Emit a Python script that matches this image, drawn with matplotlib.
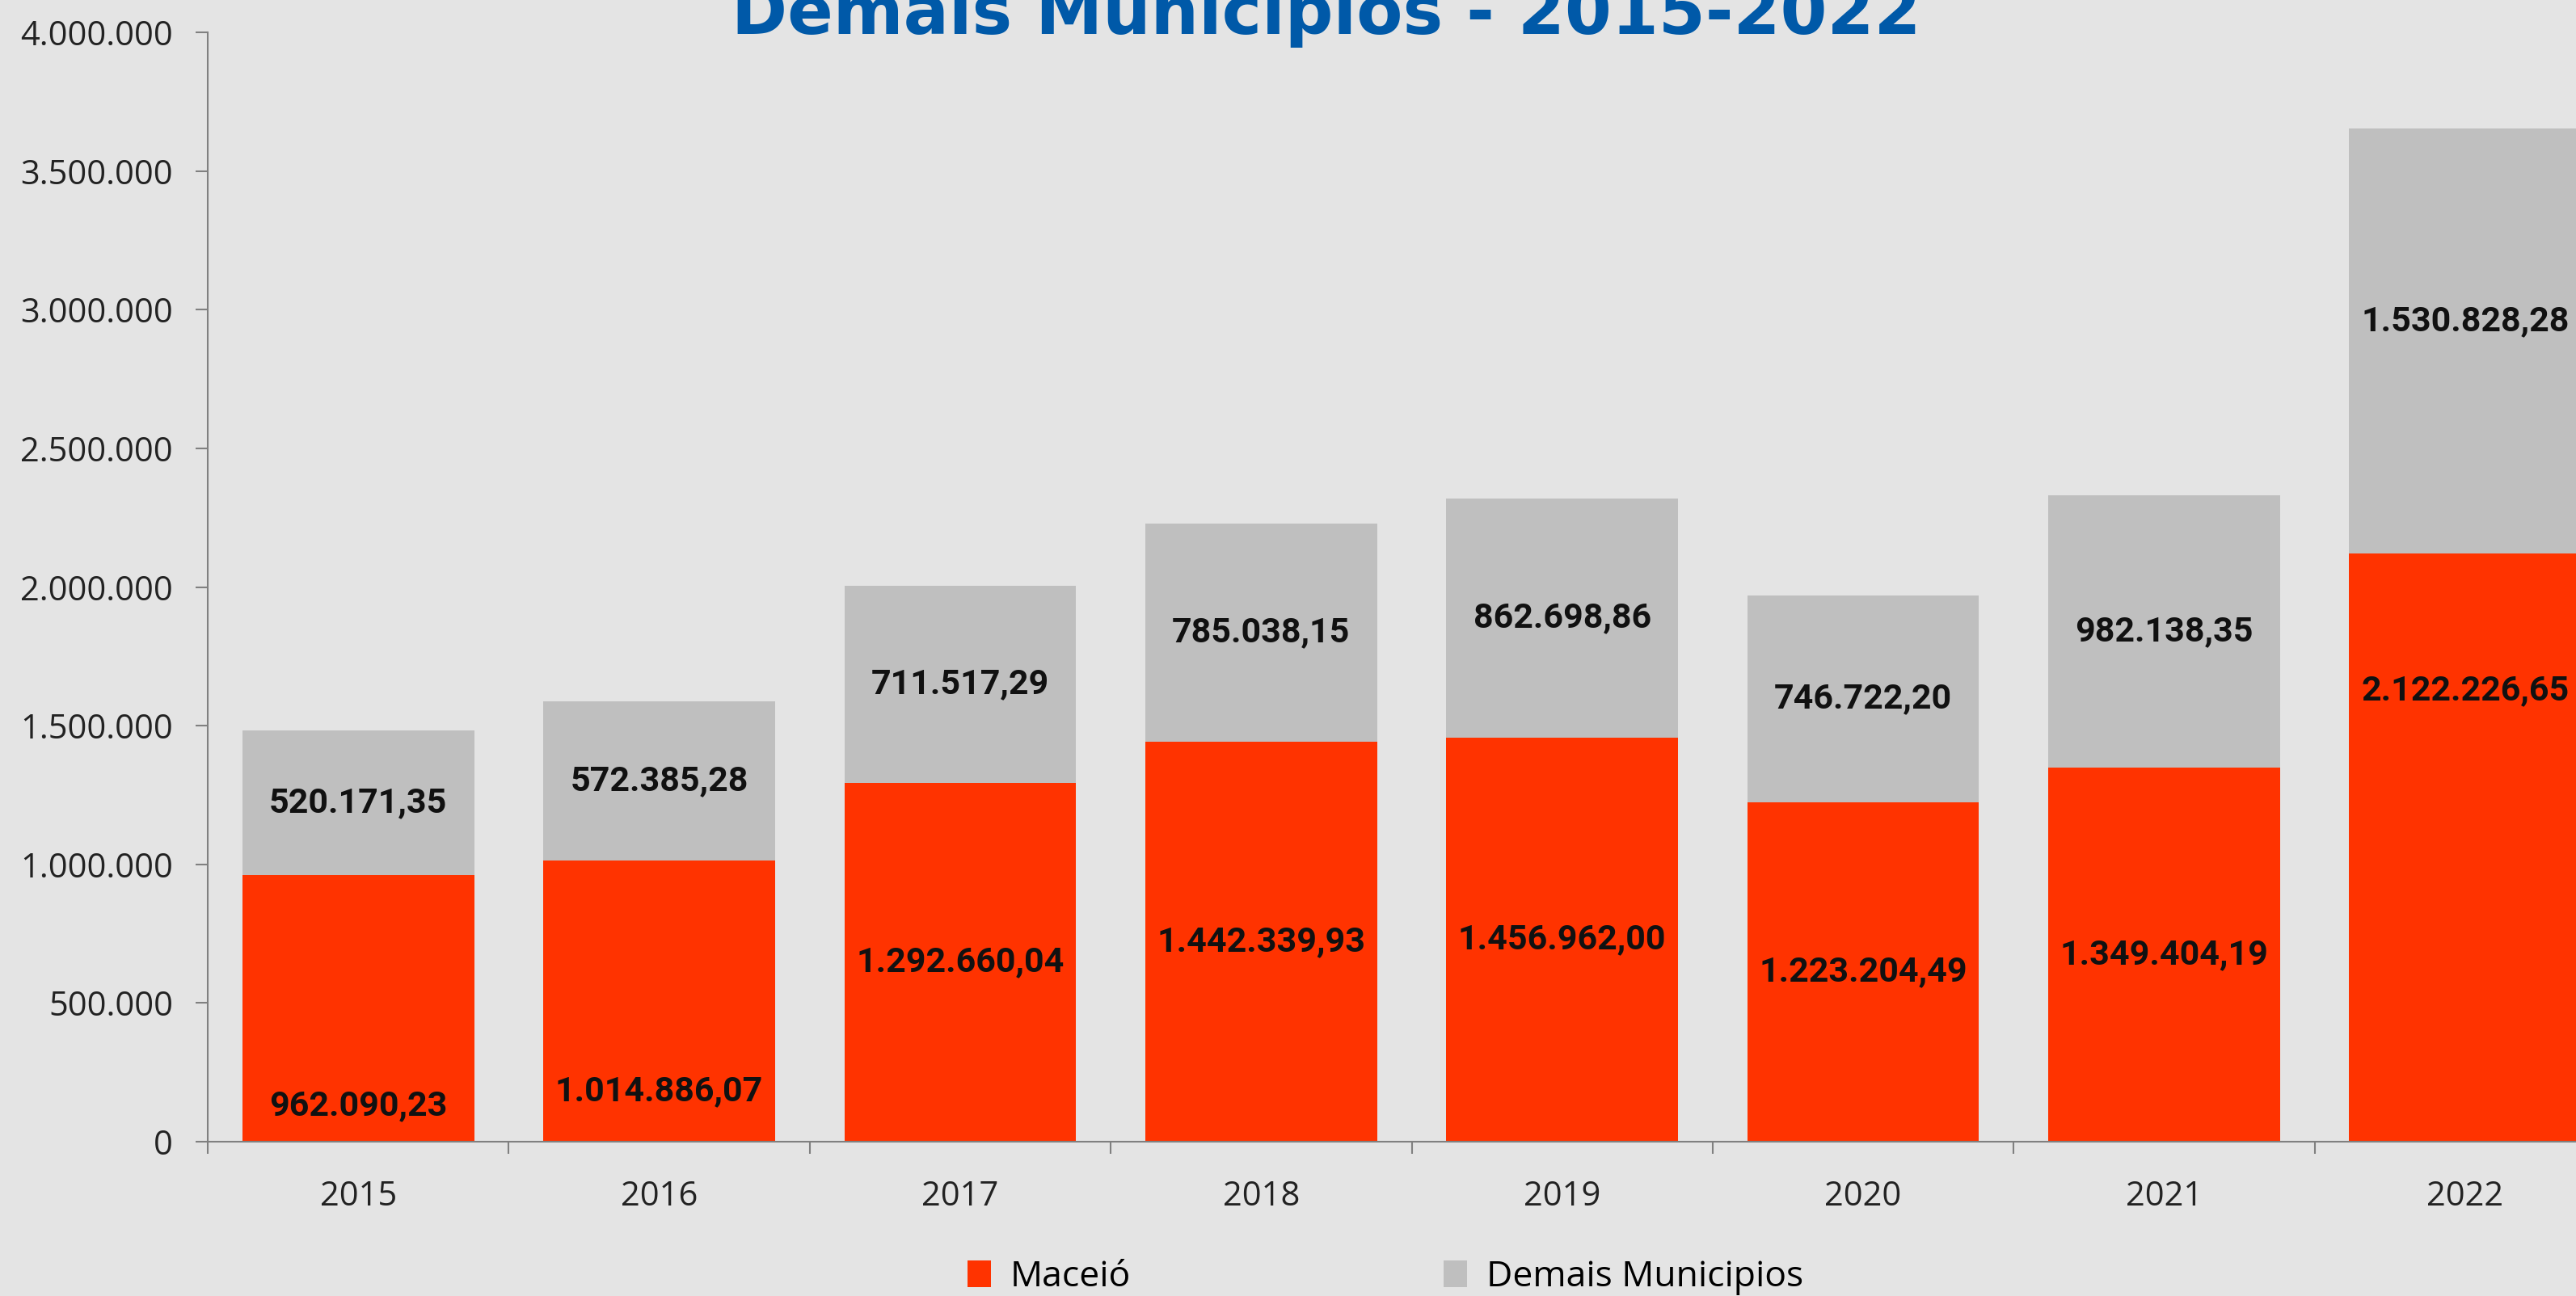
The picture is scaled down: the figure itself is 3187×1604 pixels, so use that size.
import matplotlib
matplotlib.use("Agg")
import matplotlib.pyplot as plt
from matplotlib.patches import Patch
import numpy as np

years = ["2015", "2016", "2017", "2018", "2019", "2020", "2021", "2022"]
maceio = [962090.23, 1014886.07, 1292660.04, 1442339.93, 1456962.00, 1223204.49, 1349404.19, 2122226.65]
demais = [520171.35, 572385.28, 711517.29, 785038.15, 862698.86, 746722.20, 982138.35, 1530828.28]
maceio_labels = ["962.090,23", "1.014.886,07", "1.292.660,04", "1.442.339,93", "1.456.962,00",
                 "1.223.204,49", "1.349.404,19", "2.122.226,65"]
demais_labels = ["520.171,35", "572.385,28", "711.517,29", "785.038,15", "862.698,86",
                 "746.722,20", "982.138,35", "1.530.828,28"]
yticks = [0, 500000, 1000000, 1500000, 2000000, 2500000, 3000000, 3500000, 4000000]
ytick_labels = ["0", "500.000", "1.000.000", "1.500.000", "2.000.000", "2.500.000",
                "3.000.000", "3.500.000", "4.000.000"]
series_names = ["Maceió", "Demais Municipios"]
title = "Demais Municipios - 2015-2022"

# label placement (fraction of segment height) -- style only
maceio_label_frac = [0.135, 0.18, 0.5, 0.5, 0.5, 0.5, 0.5, 0.766]
demais_label_frac = [0.5, 0.5, 0.5, 0.5, 0.5, 0.5, 0.5, 0.545]

RED = "#FF3300"
GRAY = "#BFBFBF"
BG = "#E4E4E4"

W, H = 3187, 1604
fig = plt.figure(figsize=(W / 100, H / 100), dpi=100, facecolor=BG)
ax = fig.add_axes([257 / W, 191 / H, (3236 - 257) / W, (1413 - 40) / H])
ax.set_facecolor("none")

x = np.arange(len(years))
bw = 0.77
ax.bar(x, maceio, width=bw, color=RED, zorder=2)
ax.bar(x, demais, width=bw, bottom=maceio, color=GRAY, zorder=2)

lab_kw = dict(ha="center", va="center", fontsize=31, fontweight="bold",
              family="Roboto", color="#111111", zorder=3)
for i in range(len(years)):
    ax.text(x[i], maceio[i] * maceio_label_frac[i], maceio_labels[i], **lab_kw)
    ax.text(x[i], maceio[i] + demais[i] * demais_label_frac[i], demais_labels[i], **lab_kw)

ax.set_xlim(-0.5, len(years) - 0.5)
ax.set_ylim(0, 4000000)
ax.set_yticks(yticks)
ax.set_yticklabels(ytick_labels, fontsize=30, family="Open Sans", color="#222222")
ax.set_xticks(x)
ax.set_xticklabels(years, fontsize=30, family="Open Sans", color="#222222")
ax.set_xticks(np.arange(-0.5, len(years), 1), minor=True)
ax.tick_params(axis="x", which="major", length=0, pad=34)
ax.tick_params(axis="x", which="minor", length=11, width=1.5, color="#808080", direction="out")
ax.tick_params(axis="y", length=11, width=1.5, color="#808080", direction="out", pad=20)

for s in ["top", "right"]:
    ax.spines[s].set_visible(False)
for s in ["left", "bottom"]:
    ax.spines[s].set_color("#808080")
    ax.spines[s].set_linewidth(1.5)

fig.text(1641 / W, 1 - 42 / H, title, ha="center", va="baseline", fontsize=60,
         fontweight="bold", family="DejaVu Sans", color="#0059A8")

handles = [Patch(facecolor=RED, edgecolor="none"), Patch(facecolor=GRAY, edgecolor="none")]
fig.legend(handles, series_names, loc="center", bbox_to_anchor=(1714 / W, 1 - 1581 / H),
           ncol=2, frameon=False, prop={"family": "Open Sans", "size": 32},
           handlelength=0.65, handleheight=0.75, handletextpad=0.55, columnspacing=8.7)

fig.savefig("out.png", dpi=100, facecolor=BG)
